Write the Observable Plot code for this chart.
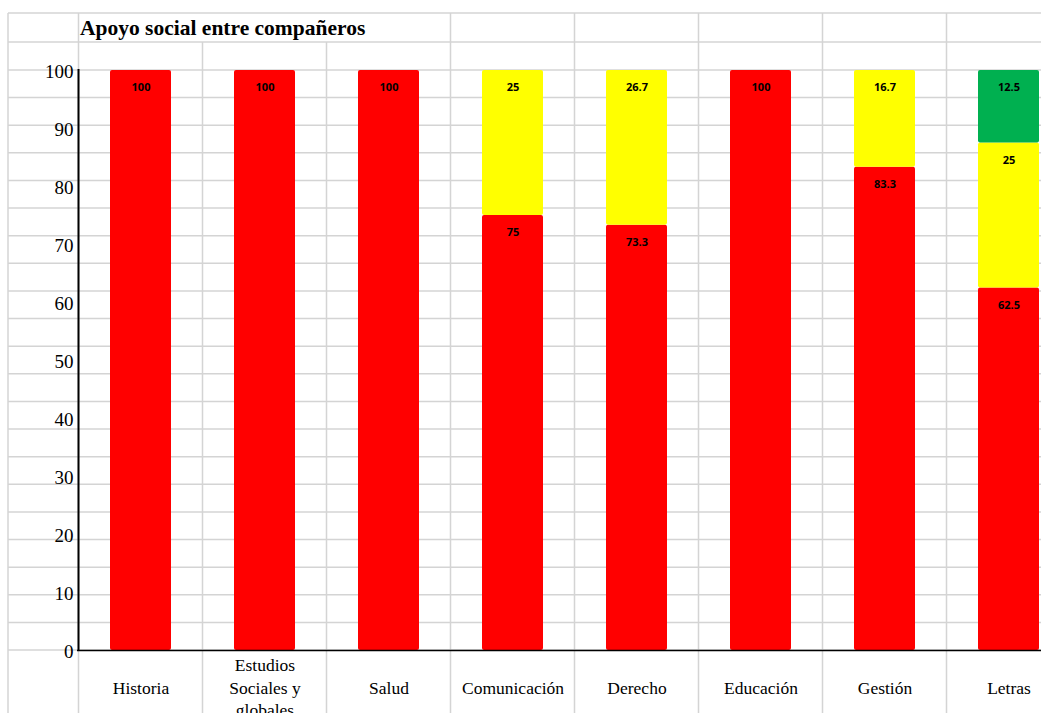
<!DOCTYPE html>
<html>
<head>
<meta charset="utf-8">
<script src="https://cdn.jsdelivr.net/npm/d3@7"></script>
<script src="https://cdn.jsdelivr.net/npm/@observablehq/plot@0.6"></script>
<style>
  html, body { margin: 0; padding: 0; background: #fff; }
  #sheet { position: relative; width: 1041px; height: 713px; overflow: hidden; background: #fff; }
  #sheet h2 {
    position: absolute; left: 80px; top: 18px; margin: 0; z-index: 2;
    font: bold 21.5px "Liberation Serif", "Times New Roman", serif; line-height: 21px; color: #000;
  }
  #sheet svg { position: absolute; left: 0; top: 0; }
</style>
</head>
<body>
<div id="sheet"><h2>Apoyo social entre compañeros</h2></div>
<script>
// Carreras (eje x) y etiquetas tal como se muestran
const categories = ["Historia", "Estudios Sociales y globales", "Salud", "Comunicación", "Derecho", "Educación", "Gestión", "Letras"];
const categoryLabels = ["Historia", "Estudios\nSociales y\nglobales", "Salud", "Comunicación", "Derecho", "Educación", "Gestión", "Letras"];

// Porcentaje por nivel de apoyo social
const levels = ["bajo", "medio", "alto"];
const bajo  = [100, 100, 100, 75, 73.3, 100, 83.3, 62.5];
const medio = [0, 0, 0, 25, 26.7, 0, 16.7, 25];
const alto  = [0, 0, 0, 0, 0, 0, 0, 12.5];
const levelColors = ["#FF0000", "#FFFF00", "#00B050"];

const yTicks = [0, 10, 20, 30, 40, 50, 60, 70, 80, 90, 100];

// Tabla larga: una fila por segmento no nulo, de abajo hacia arriba
const series = [bajo, medio, alto];
const rows = [];
categories.forEach((c, i) => {
  levels.forEach((lv, j) => {
    const v = series[j][i];
    if (v > 0) rows.push({categoria: c, nivel: lv, valor: v});
  });
});

const labelOf = new Map(categories.map((c, i) => [c, categoryLabels[i]]));
const serif = "'Liberation Serif', 'Times New Roman', serif";

const chart = Plot.plot({
  width: 1041,
  height: 713,
  marginTop: 70,
  marginBottom: 63,
  marginLeft: 77,
  marginRight: 0,
  style: {background: "transparent", fontFamily: serif, color: "#000"},
  x: {domain: categories, range: [77, 1071], paddingInner: 0.51, paddingOuter: 0.255},
  y: {domain: [0, 100]},
  color: {domain: levels, range: levelColors},
  marks: [
    Plot.barY(rows, {x: "categoria", y: "valor", fill: "nivel", z: "nivel", rx: 2}),
    Plot.text(rows, Plot.stackY2({
      x: "categoria", y: "valor", z: "nivel",
      text: d => String(d.valor),
      dy: 17, fill: "#000",
      fontFamily: "'Open Sans', 'Liberation Sans', sans-serif",
      fontWeight: "bold", fontSize: 11
    })),
    Plot.ruleY([0], {stroke: "#000", strokeWidth: 1.5}),
    Plot.axisY({ticks: yTicks, tickSize: 0, tickPadding: 4, fontSize: 19, fontFamily: serif, dy: 1, label: null}),
    Plot.axisX({
      tickSize: 0, tickPadding: 36, lineAnchor: "middle", lineHeight: 1.28,
      fontSize: 17.5, fontFamily: serif, label: null,
      tickFormat: c => labelOf.get(c)
    })
  ]
});

document.getElementById("sheet").appendChild(chart);

// Cuadrícula de hoja de cálculo detrás del gráfico
const xs = chart.scale("x");
const ys = chart.scale("y");
const yBottom = ys.apply(0), yTop = ys.apply(100);
const rowH = (yBottom - yTop) / 21;
const hLines = d3.range(0, 22).map(k => yBottom - k * rowH).concat([yTop - 28, yTop - 57]);
const sheetTop = yTop - 57;
const gap = (xs.step - xs.bandwidth) / 2;
const colBounds = categories.map(c => xs.apply(c) - gap);
const leftEdge = 8;

const g = d3.create("svg:g").attr("stroke", "#d4d4d4").attr("stroke-width", 1.5);
hLines.forEach(y => g.append("line").attr("x1", leftEdge).attr("x2", 1041).attr("y1", y).attr("y2", y));
g.append("line").attr("x1", leftEdge).attr("x2", leftEdge).attr("y1", sheetTop).attr("y2", 713);
colBounds.forEach((x, i) => {
  // las columnas 2 y 3 quedan ocultas en la fila del título
  const top = (i === 1 || i === 2) ? yTop - 28 : sheetTop;
  g.append("line").attr("x1", x).attr("x2", x).attr("y1", top).attr("y2", 713);
});
chart.insertBefore(g.node(), chart.firstChild);

// Línea del eje vertical, en el borde izquierdo del área de trazado
d3.select(chart).append("line")
  .attr("x1", colBounds[0]).attr("x2", colBounds[0])
  .attr("y1", yTop - 1).attr("y2", yBottom)
  .attr("stroke", "#000").attr("stroke-width", 2);
</script>
</body>
</html>
